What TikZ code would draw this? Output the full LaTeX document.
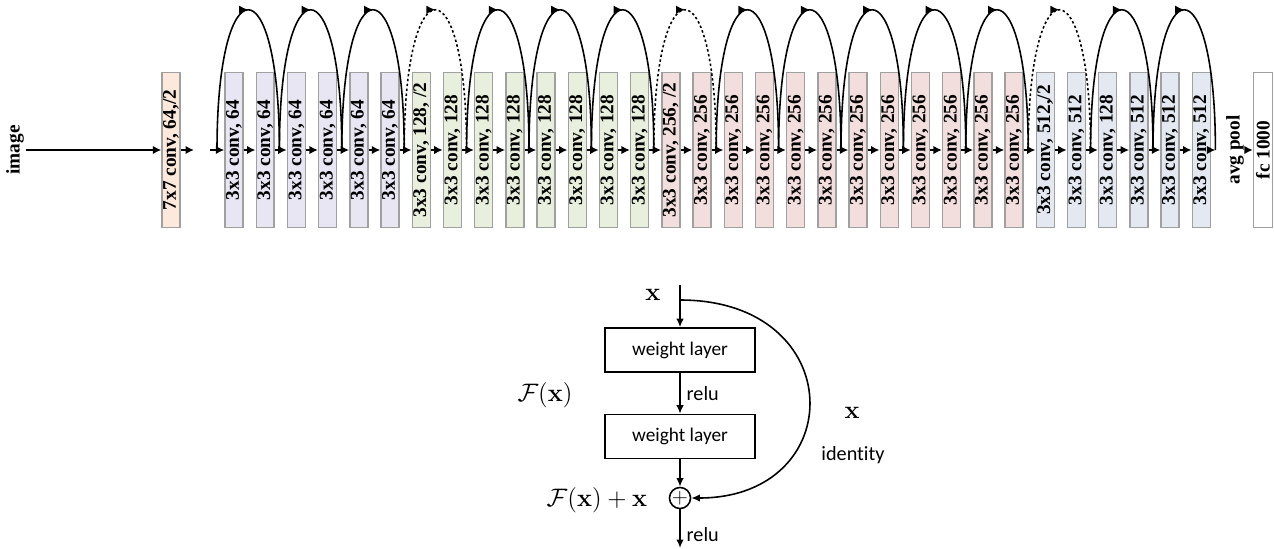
\documentclass[tikz,border=0pt]{standalone}
\usepackage{amsmath,amssymb}
\usepackage[no-math]{fontspec}
\setmainfont{Liberation Serif}
\newfontfamily\calibri[Ligatures=NoCommon]{Carlito}
\usepackage{tikz}
\usepackage{xcolor}
\usetikzlibrary{arrows.meta, positioning, calc, decorations.markings}

\definecolor{peach}{HTML}{FCE9DC}
\definecolor{lav}{HTML}{E8E6F2}
\definecolor{sage}{HTML}{E9EFDD}
\definecolor{rose}{HTML}{F2DEDC}
\definecolor{ice}{HTML}{E4E8F0}
\definecolor{edge}{HTML}{A0A0A0}

\begin{document}
\begin{tikzpicture}[x=0.02cm, y=-0.02cm,
    conv/.style={rectangle, rotate=90, draw=edge, line width=0.8pt, minimum width=3.1cm, minimum height=0.36cm, inner sep=0pt, font=\fontsize{11}{12}\selectfont\bfseries},
    tag/.style={rotate=90, inner sep=1pt, font=\fontsize{11}{12}\selectfont\bfseries},
    flow/.style={-{Latex[length=1.7mm,width=1.7mm]}, line width=1.1pt},
    skip/.style={line width=0.9pt, decoration={markings, mark=at position 0.5 with {\arrow{Latex[length=1.8mm,width=1.7mm]}}}, postaction={decorate}},
    dotskip/.style={skip, dash pattern=on 1.4pt off 1.4pt},
    wlayer/.style={rectangle, draw, line width=0.9pt, minimum width=3cm, minimum height=0.88cm, font=\calibri\fontsize{11}{13}\selectfont},
    link/.style={-{Latex[length=1.7mm,width=1.5mm]}, line width=0.9pt},
    mathlab/.style={font=\fontsize{13.5}{16}\selectfont},
    word/.style={font=\calibri\fontsize{11.5}{13}\selectfont}
]
    \useasboundingbox (0,0) rectangle (1274,548);

    % Input and first conv
    \node[tag] (img) at (15,150) {image};
    \node[conv, fill=peach] (c7) at (171,150) {7x7 conv, 64,/2};
    \coordinate (p1) at (194,150);
    \coordinate (p2) at (210,150);

    % 64 stage
    \foreach \i in {0,...,5}
        \node[conv, fill=lav] (b\i) at ({234+31.2*\i},150) {3x3 conv, 64};
    % 128 stage
    \node[conv, fill=sage] (b6) at ({234+31.2*6},150) {3x3 conv, 128, /2};
    \foreach \i in {7,...,13}
        \node[conv, fill=sage] (b\i) at ({234+31.2*\i},150) {3x3 conv, 128};
    % 256 stage
    \node[conv, fill=rose] (b14) at ({234+31.2*14},150) {3x3 conv, 256, /2};
    \foreach \i in {15,...,25}
        \node[conv, fill=rose] (b\i) at ({234+31.2*\i},150) {3x3 conv, 256};
    % 512 stage
    \node[conv, fill=ice] (b26) at ({234+31.2*26},150) {3x3 conv, 512,/2};
    \node[conv, fill=ice] (b27) at ({234+31.2*27},150) {3x3 conv, 512};
    \node[conv, fill=ice] (b28) at ({234+31.2*28},150) {3x3 conv, 128};
    \foreach \i in {29,...,31}
        \node[conv, fill=ice] (b\i) at ({234+31.2*\i},150) {3x3 conv, 512};

    % Output
    \node[tag] (pool) at (1235,150) {avg pool};
    \node[conv, fill=white, minimum height=0.38cm] (fc) at (1263,150) {fc 1000};

    % Main flow
    \draw[flow] (img.south) -- (c7.north);
    \draw[flow] (c7.south) -- (p1);
    \draw[flow] (p2) -- (b0.north);
    \foreach \i [evaluate=\i as \n using int(\i+1)] in {0,...,30}
        \draw[flow] (b\i.south) -- (b\n.north);
    \foreach \k in {0,...,16}
        \coordinate (j\k) at ({217+62.4*\k},150);
    \draw[flow] (b31.south) -- (j16);
    \draw[flow] (pool.south) -- (fc.north);

    % Shortcuts
    \foreach \k [evaluate=\k as \m using int(\k+1)] in {0,1,2,4,5,6,8,9,10,11,12,14,15}
        \draw[skip] (j\k) .. controls +(0,-187) and +(0,-187) .. (j\m);
    \foreach \k [evaluate=\k as \m using int(\k+1)] in {3,7,13}
        \draw[dotskip] (j\k) .. controls +(0,-187) and +(0,-187) .. (j\m);

    % Residual block
    \node[mathlab] (xin) at (653,295) {$\mathbf{x}$};
    \coordinate (top) at (680,285);
    \coordinate (split) at (680,300);
    \node[wlayer] (w1) at (680,350) {weight layer};
    \node[wlayer] (w2) at (680,436.5) {weight layer};
    \node[circle, draw, line width=0.9pt, inner sep=0pt, minimum size=0.4cm, font=\fontsize{12}{12}\selectfont] (add) at (680,498) {$+$};
    \coordinate (out) at (680,548);
    \node[mathlab] (fx) at (545,395) {$\mathcal{F}(\mathbf{x})$};
    \node[mathlab] (fxx) at (597,500) {$\mathcal{F}(\mathbf{x}) + \mathbf{x}$};
    \node[mathlab] (xid) at (852,413) {$\mathbf{x}$};
    \node[word] (ident) at (853,455) {identity};

    \draw[link] (top) -- (w1);
    \draw[link] (w1) -- node[right, word] {relu} (w2);
    \draw[link] (w2) -- (add);
    \draw[link] (add) -- node[right, word, pos=0.65] {relu} (out);
    \draw[link] (split) .. controls (850,300) and (850,498) .. (add.east);

\end{tikzpicture}
\end{document}
